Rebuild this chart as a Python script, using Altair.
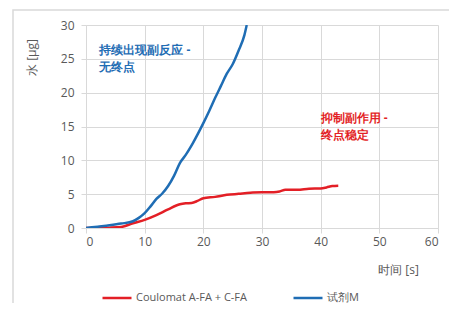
import altair as alt
import pandas as pd

red_x = [0, 2, 4, 6, 8, 10, 12, 14, 16, 17, 18, 19, 20, 22, 24, 26, 28, 30, 32, 33, 34, 36, 38, 40, 41, 42, 43]
red_y = [0, 0.02, 0.05, 0.15, 0.7, 1.2, 1.9, 2.75, 3.5, 3.65, 3.7, 4.0, 4.4, 4.6, 4.9, 5.05, 5.2, 5.3, 5.3, 5.4, 5.65, 5.65, 5.8, 5.85, 6.0, 6.2, 6.25]
blue_x = [0, 2, 4, 6, 8, 9, 10, 11, 12, 13, 14, 15, 16, 17, 18, 19, 20, 21, 22, 23, 24, 25, 26, 27, 27.4]
blue_y = [0, 0.2, 0.4, 0.65, 1.0, 1.5, 2.2, 3.2, 4.3, 5.1, 6.2, 7.7, 9.6, 10.8, 12.2, 13.8, 15.5, 17.3, 19.2, 21.0, 22.8, 24.2, 26.2, 28.5, 30]
series = ["Coulomat A-FA + C-FA", "试剂M"]
colors = ["#e31f26", "#1f6db4"]
x_ticks = [0, 10, 20, 30, 40, 50, 60]
y_ticks = [0, 5, 10, 15, 20, 25, 30]

ann_text = ["持续出现副反应 -", "无终点", "抑制副作用 -", "终点稳定"]
ann_x = [2.3, 2.3, 40.0, 40.0]
ann_y = [26.3, 23.8, 16.25, 13.7]
ann_series = ["试剂M", "试剂M", "Coulomat A-FA + C-FA", "Coulomat A-FA + C-FA"]

df = pd.concat([
    pd.DataFrame({"t": red_x, "w": red_y, "s": series[0]}),
    pd.DataFrame({"t": blue_x, "w": blue_y, "s": series[1]}),
])
ann = pd.DataFrame({"t": ann_x, "w": ann_y, "txt": ann_text, "s": ann_series})

FONT = "Open Sans"
GRID = "#d9d9d9"

xs = alt.Scale(domain=[0, 60], nice=False)
ys = alt.Scale(domain=[0, 30], nice=False)
x_axis = alt.Axis(
    values=x_ticks, title="时间 [s]", titleX=312, titleY=41,
    titleAlign="center", titleBaseline="middle", titleFontWeight="normal",
    titleFontSize=12, titleColor="#595959", labelPadding=3, tickSize=5,
    labelOverlap=False)
y_axis = alt.Axis(
    values=y_ticks, title="水 [µg]", titleX=-55, titleY=32,
    titleAlign="center", titleBaseline="middle", titleAngle=-90, titleFontWeight="normal",
    titleFontSize=12, titleColor="#595959", labelPadding=7, tickSize=5,
    labelOverlap=False)
color_scale = alt.Scale(domain=series, range=colors)

lines = alt.Chart(df).mark_line(strokeWidth=2.5, interpolate="monotone", clip=True).encode(
    x=alt.X("t:Q", scale=xs, axis=x_axis),
    y=alt.Y("w:Q", scale=ys, axis=y_axis),
    color=alt.Color("s:N", scale=color_scale, legend=alt.Legend(
        title=None, orient="none", legendX=15, legendY=257, direction="horizontal",
        symbolType="stroke", symbolSize=841, symbolStrokeWidth=2.5, symbolOpacity=1,
        columnPadding=41, labelFontSize=11, labelColor="#595959", labelFont=FONT,
        labelOffset=3, padding=0)),
)

texts = alt.Chart(ann).mark_text(align="left", baseline="middle", fontSize=12,
                                  fontWeight="bold", font=FONT).encode(
    x=alt.X("t:Q", scale=xs, axis=x_axis),
    y=alt.Y("w:Q", scale=ys, axis=y_axis),
    text="txt:N",
    color=alt.Color("s:N", scale=color_scale, legend=None),
)

frame = alt.Chart(pd.DataFrame({"a": [0]})).mark_rect(
    fill=None, stroke=GRID, strokeWidth=1.5, clip=False).encode(
    x=alt.value(-73), x2=alt.value(400), y=alt.value(-15), y2=alt.value(400))

chart = alt.layer(frame, lines, texts).properties(
    width=352, height=203,
    autosize=alt.AutoSizeParams(type="none"),
    padding={"left": 78, "top": 17, "right": 11, "bottom": 75},
).configure_view(stroke=None).configure_axis(
    gridColor=GRID, domainColor=GRID, tickColor=GRID, labelColor="#595959",
    labelFontSize=12, labelFont=FONT, titleFont=FONT, gridWidth=1,
)

chart.save("out.html", embed_options={"renderer": "svg", "actions": False})
